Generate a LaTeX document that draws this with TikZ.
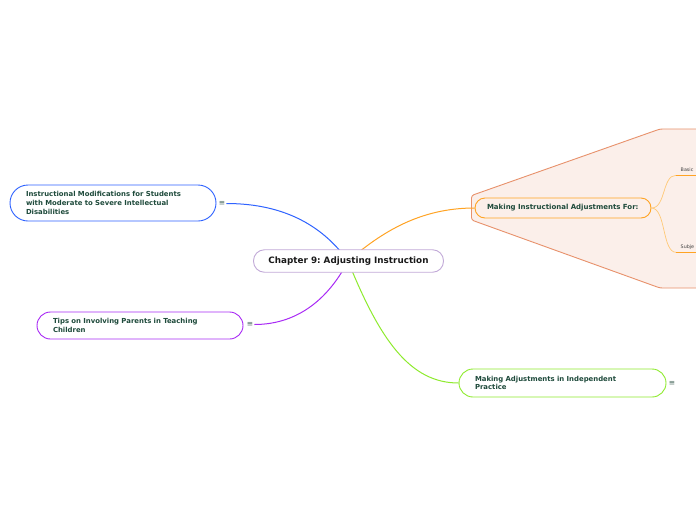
\documentclass[tikz,border=0pt]{standalone}
\usepackage{fontspec}
\setmainfont{DejaVu Sans}
\frenchspacing
\definecolor{cblue}{HTML}{2F63FF}
\definecolor{cpurple}{HTML}{A92BF5}
\definecolor{cgreen}{HTML}{8EEB2E}
\definecolor{corange}{HTML}{FFA323}
\definecolor{clorange}{HTML}{FFC977}
\definecolor{ccenter}{HTML}{C2AAD8}
\definecolor{bstroke}{HTML}{E8916B}
\definecolor{bfill}{HTML}{FBEFEA}
\definecolor{ctext}{HTML}{1E4A3B}
\definecolor{cicon}{HTML}{4A6A5E}
\begin{document}
\begin{tikzpicture}[x=1pt,y=-1pt,
  topic/.style={draw, fill=white, line width=0.9pt, align=left, inner xsep=16pt,
     font=\fontsize{6.9}{8.7}\selectfont\bfseries, text=ctext, anchor=center},
  icon/.style={font=\fontsize{7.5}{8}\selectfont, text=cicon, inner sep=1pt},
  conn/.style={line width=1pt},
  small/.style={font=\fontsize{4.8}{5}\selectfont, text=black!75, inner sep=0pt, anchor=base west}]
\useasboundingbox (0,0) rectangle (696,520);
\fill[white] (0,0) rectangle (696,520);
\begin{scope}
\clip (0,0) rectangle (696,520);
\draw[bstroke, fill=bfill, line width=0.9pt, rounded corners=2.5pt]
  (710,129) -- (660,129) -- (471.5,195.5) -- (471.5,220) -- (660,288) -- (710,288);
\coordinate (hub) at (348,261);
% nodes
\node[topic, draw=cblue, minimum width=206pt, minimum height=36pt, rounded corners=18pt, text width=174pt] (n1) at (113,203)
  {Instructional Modifications for Students\\with Moderate to Severe Intellectual\\Disabilities};
\node[topic, draw=cpurple, minimum width=206pt, minimum height=27pt, rounded corners=13.5pt, text width=174pt] (n2) at (140,325.5)
  {Tips on Involving Parents in Teaching\\Children};
\node[topic, draw=cgreen, minimum width=207pt, minimum height=28pt, rounded corners=14pt, text width=175pt] (n3) at (562.5,383)
  {Making Adjustments in Independent\\Practice};
\node[icon] (i1) at (222,203.5) {≡};
\node[icon] (i2) at (250,324.5) {≡};
\node[icon] (i3) at (672,383.5) {≡};
\node[topic, draw=corange, fill=none, minimum width=176pt, minimum height=20pt, rounded corners=10pt, inner xsep=12pt, text width=152pt,
  font=\fontsize{7}{8}\selectfont\bfseries] (n4) at (563,208) {Making Instructional Adjustments For:};
% main connectors
\draw[conn, cblue] (hub) .. controls (325,229) and (288,203.5) .. (i1.east);
\draw[conn, cpurple] (hub) .. controls (330,296) and (300,324.5) .. (i2.east);
\draw[conn, cgreen] (hub) .. controls (380,340) and (410,383) .. (n3.west);
\draw[conn, corange] (hub) .. controls (382,232) and (420,208) .. (n4.west);
\node[draw=ccenter, fill=white, line width=0.9pt, rounded corners=11pt, minimum width=190pt, minimum height=22.5pt,
  font=\fontsize{8.8}{10}\selectfont\bfseries, text=black!90] (c) at (348.5,261) {Chapter 9: Adjusting Instruction};
% sub branches
\coordinate (b1) at (676,175.3);
\coordinate (b2) at (676,252.3);
\coordinate (b1e) at (700,175.3);
\coordinate (b2e) at (700,252.3);
\draw[clorange, line width=0.7pt] (n4.east) .. controls (666,208) and (662,175.3) .. (b1);
\draw[clorange, line width=0.7pt] (n4.east) .. controls (666,208) and (662,252.3) .. (b2);
\draw[corange, line width=1.3pt] (b1) -- (b1e);
\draw[corange, line width=1.3pt] (b2) -- (b2e);
\node[small] (t1) at (680.5,171) {Basic};
\node[small] (t2) at (680.5,248) {Subje};
\end{scope}
\end{tikzpicture}
\end{document}
